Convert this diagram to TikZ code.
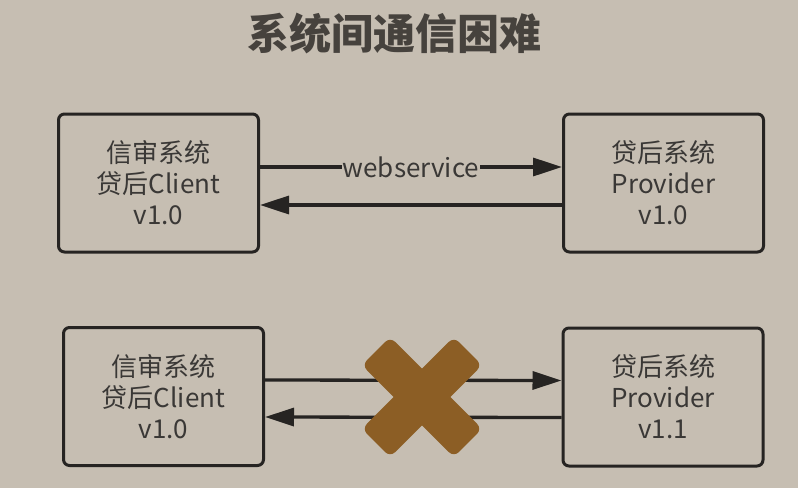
\documentclass[tikz,border=0pt]{standalone}
\usepackage{fontspec}
\setmainfont{Noto Sans CJK SC}
\usetikzlibrary{arrows.meta}
\definecolor{bgcolor}{HTML}{C6BEB2}
\definecolor{boxline}{HTML}{262422}
\definecolor{txtgray}{HTML}{3A3836}
\definecolor{titlegray}{HTML}{46423D}
\definecolor{crossbrown}{HTML}{8C5E25}

\begin{document}
\begin{tikzpicture}[x=1pt, y=-1pt,
  sysbox/.style={draw=boxline, line width=3pt, rounded corners=6pt, minimum width=200pt, minimum height=138pt, align=center, font=\fontsize{26}{31}\selectfont, text=txtgray},
  link/.style={draw=boxline, line width=3.3pt, -{Triangle[length=29pt, width=18pt]}},
  crossarm/.style={fill=crossbrown, rounded corners=7pt, minimum width=130pt, minimum height=40pt, inner sep=0pt}]
  \fill[bgcolor] (0,0) rectangle (798,488);
  \node[font=\fontsize{42}{42}\selectfont\bfseries, text=titlegray] (title) at (394,33) {系统间通信困难};

  % old version: works
  \node[sysbox] (client1) at (158.5,183) {信审系统\\贷后Client\\v1.0};
  \node[sysbox] (provider1) at (663.5,183) {贷后系统\\Provider\\v1.0};
  \draw[link] ([yshift=16pt]client1.east) -- ([yshift=16pt]provider1.west)
    node[pos=0.5, fill=bgcolor, inner sep=1pt, text=txtgray, font=\fontsize{26}{26}\selectfont] (ws) {webservice};
  \draw[link] ([yshift=-22pt]provider1.west) -- ([yshift=-22pt]client1.east);

  % new version: broken
  \node[sysbox] (client2) at (163.5,396.5) {信审系统\\贷后Client\\v1.0};
  \node[sysbox] (provider2) at (663,397) {贷后系统\\Provider\\v1.1};
  \draw[link] ([yshift=16.5pt]client2.east) -- ([yshift=16.5pt]provider2.west);
  \draw[link] ([yshift=-20.5pt]provider2.west) -- ([yshift=-20.5pt]client2.east);

  \node[crossarm, rotate=45] (crossA) at (422,397) {};
  \node[crossarm, rotate=-45] (crossB) at (422,397) {};
\end{tikzpicture}
\end{document}
